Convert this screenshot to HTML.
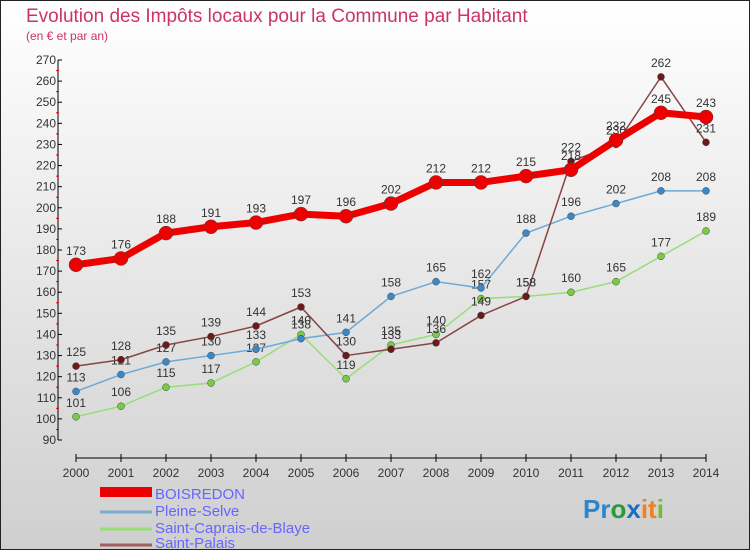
<!DOCTYPE html>
<html><head><meta charset="utf-8"><style>
body{margin:0}
#c{width:750px;height:550px;position:relative;box-sizing:border-box;border:1px solid #222;background:linear-gradient(#ffffff,#cfcfcf);font-family:"Liberation Sans",sans-serif;overflow:hidden}
</style></head><body>
<div id="c">
<svg id="s" width="750" height="550" style="position:absolute;left:-1px;top:-1px">
<text x="26" y="22" font-size="19" fill="#cc3366">Evolution des Impôts locaux pour la Commune par Habitant</text>
<text x="26" y="40" font-size="12" fill="#cc3366">(en € et par an)</text>
<g id="axes"></g><g id="series"></g>
<g>
<rect x="100" y="487" width="52" height="10" fill="#ee0000"/>
<text x="155" y="499" font-size="15" fill="#6666ff">BOISREDON</text>
<line x1="100" y1="512" x2="152" y2="512" stroke="#7aaed0" stroke-width="3"/>
<text x="155" y="516" font-size="15" fill="#6666ff">Pleine-Selve</text>
<line x1="100" y1="529" x2="152" y2="529" stroke="#99dd77" stroke-width="3"/>
<text x="155" y="533" font-size="15" fill="#6666ff">Saint-Caprais-de-Blaye</text>
<line x1="100" y1="545" x2="152" y2="545" stroke="#a06060" stroke-width="3"/>
<text x="155" y="548" font-size="15" fill="#6666ff">Saint-Palais</text>
</g>
<text x="583" y="518" font-size="26" font-weight="bold"><tspan fill="#2b86d0">Pr</tspan><tspan fill="#2a9a3a">o</tspan><tspan fill="#1a6fc0">x</tspan><tspan fill="#f08020">it</tspan><tspan fill="#6fbf30">i</tspan></text>
</svg>
</div>
<script>
const years=[2000,2001,2002,2003,2004,2005,2006,2007,2008,2009,2010,2011,2012,2013,2014];
const boisredon=[173,176,188,191,193,197,196,202,212,212,215,218,232,245,243];
const pleineSelve=[113,121,127,130,133,138,141,158,165,162,188,196,202,208,208];
const saintCaprais=[101,106,115,117,127,140,119,135,140,157,158,160,165,177,189];
const saintPalais=[125,128,135,139,144,153,130,133,136,149,158,222,230,262,231];
const yTicks=[90,100,110,120,130,140,150,160,170,180,190,200,210,220,230,240,250,260,270];
const NS="http://www.w3.org/2000/svg";
const xS=i=>76+i*45;
const yS=v=>440-(v-90)*(380/180);
function mk(t,a,p){const e=document.createElementNS(NS,t);for(const k in a)e.setAttribute(k,a[k]);p.appendChild(e);return e;}
const ax=document.getElementById('axes');
let l=mk('line',{x1:58,y1:yS(270),x2:58,y2:yS(90),stroke:'#000'},ax);


yTicks.forEach(v=>{
 mk('line',{x1:58,y1:yS(v),x2:62,y2:yS(v),stroke:'#000'},ax);
 if(v<270)mk('line',{x1:56,y1:yS(v+5),x2:59,y2:yS(v+5),stroke:'#e00'},ax);
 const t=mk('text',{x:56,y:yS(v)+4,'font-size':12,'text-anchor':'end',fill:'#333'},ax);t.textContent=v;
 
 
});
l=mk('line',{x1:76,y1:458,x2:706,y2:458,stroke:'#000'},ax);


years.forEach((y,i)=>{
 mk('line',{x1:xS(i),y1:454,x2:xS(i),y2:462,stroke:'#000'},ax);
 const t=mk('text',{x:xS(i),y:477,'font-size':12,'text-anchor':'middle',fill:'#333'},ax);t.textContent=y;
 
 
});
const sg=document.getElementById('series');
function draw(vals,col,dot,w,r,name){
 const g=mk('g',{},sg);
 
 
 mk('polyline',{points:vals.map((v,i)=>xS(i)+','+yS(v)).join(' '),fill:'none',stroke:col,'stroke-width':w,'stroke-linejoin':'round'},g);
 vals.forEach((v,i)=>{
  const c=mk('circle',{cx:xS(i),cy:yS(v),r:r,fill:dot,stroke:'#444','stroke-width':0.5},g);
  
  
  const t=mk('text',{x:xS(i),y:yS(v)-10,'font-size':12,'text-anchor':'middle',fill:'#333'},g);t.textContent=v;
  
  
 });
}
draw(saintCaprais,'#99dd77','#77cc44',1.5,3.5,'series-saint-caprais');
draw(pleineSelve,'#6aaad8','#3a88c8',1.5,3.5,'series-pleine-selve');
draw(saintPalais,'#884444','#6a1a1a',1.5,3.5,'series-saint-palais');
draw(boisredon,'#ee0000','#ee0000',7,7,'series-boisredon');
</script>
</body></html>
